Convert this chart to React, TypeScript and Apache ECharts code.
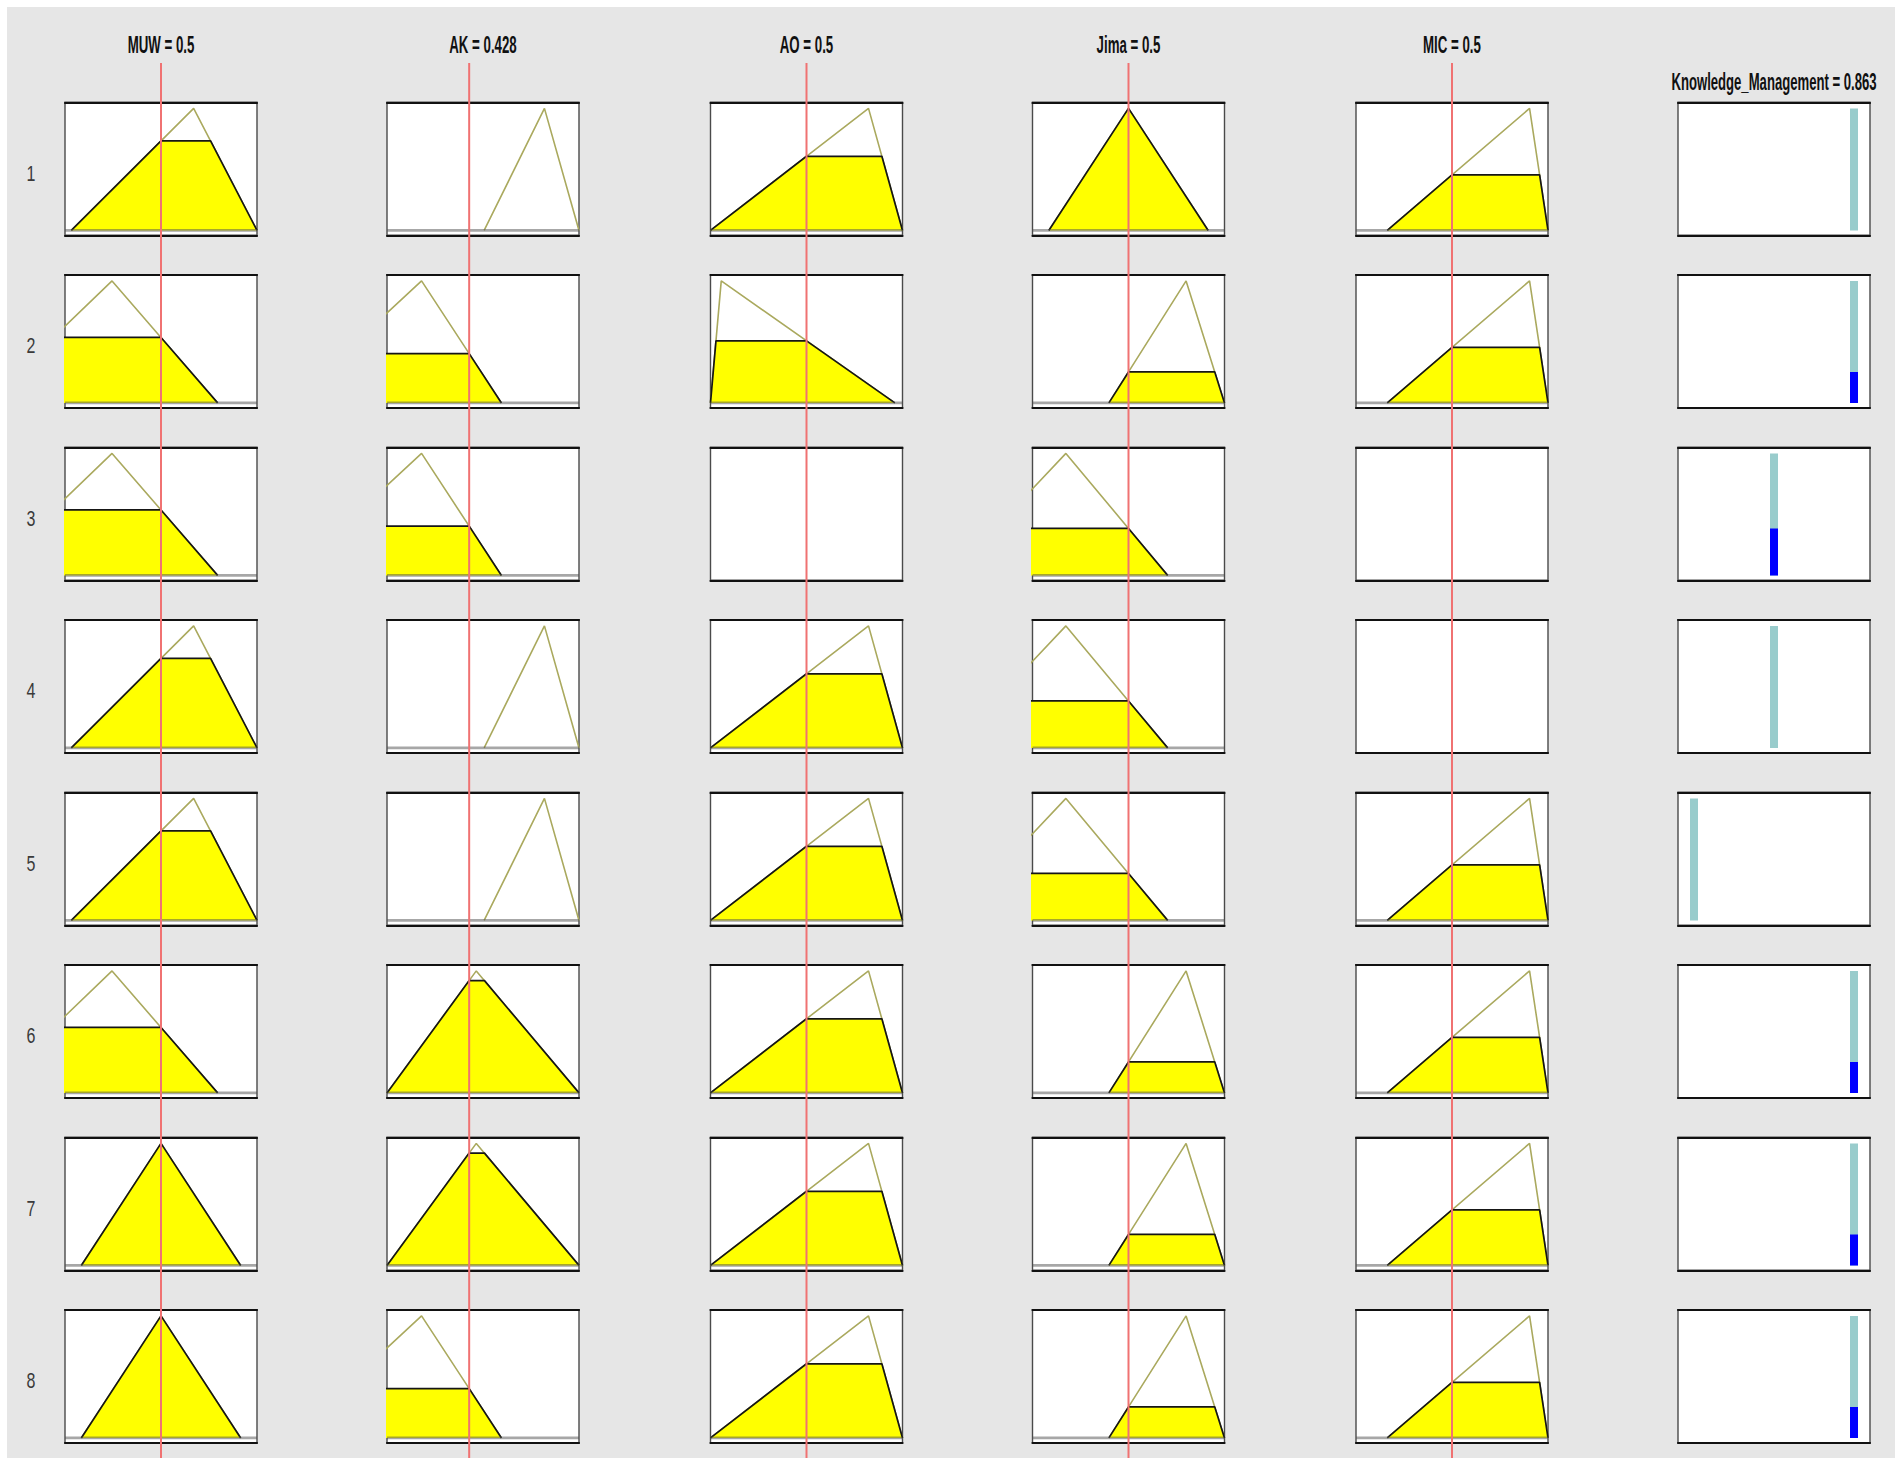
import React, { useEffect, useRef } from 'react';
import * as echarts from 'echarts';

// ---------- data ----------
const inputTitles = ['MUW = 0.5', 'AK = 0.428', 'AO = 0.5', 'Jima = 0.5', 'MIC = 0.5'];
const inputValues = [0.5, 0.428, 0.5, 0.5, 0.5];
const outputTitle = 'Knowledge_Management = 0.863';
const ruleLabels = ['1', '2', '3', '4', '5', '6', '7', '8'];

// triangular membership functions [a, b, c]
const muwMFs: Record<string, number[]> = { low: [-0.417, 0.245, 0.795], mid: [0.085, 0.5, 0.915], high: [0.033, 0.67, 1.0] };
const akMFs: Record<string, number[]> = { low: [-0.505, 0.18, 0.596], mid: [0, 0.465, 1.0], high: [0.506, 0.82, 1.0] };
const aoMFs: Record<string, number[]> = { low: [0, 0.056, 0.96], high: [0, 0.823, 1.0] };
const jimaMFs: Record<string, number[]> = { low: [-0.426, 0.174, 0.704], mid: [0.085, 0.5, 0.915], high: [0.398, 0.8, 1.0] };
const micMFs: Record<string, number[]> = { high: [0.163, 0.904, 1.0] };
const outputMFs: Record<string, number> = { low: 0, medium: 0.5, high: 1 };

// rule antecedents (null = input not used in the rule)
const ruleMUW = ['high', 'low', 'low', 'high', 'high', 'low', 'mid', 'mid'];
const ruleAK = ['high', 'low', 'low', 'high', 'high', 'mid', 'mid', 'low'];
const ruleAO = ['high', 'low', null, 'high', 'high', 'high', 'high', 'high'];
const ruleJima = ['mid', 'high', 'low', 'low', 'low', 'high', 'high', 'high'];
const ruleMIC = ['high', 'high', null, null, 'high', 'high', 'high', 'high'];
const ruleOutput = ['high', 'high', 'medium', 'medium', 'low', 'high', 'high', 'high'];

// ---------- layout ----------
const W = 1902;
const H = 1465;
const colLeft = [65, 387, 710.5, 1032.5, 1356, 1678];
const boxW = 192;
const rowTop0 = 102.3;
const rowStep = 172.5;
const boxH = 133;

const inputMFs = [muwMFs, akMFs, aoMFs, jimaMFs, micMFs];
const inputRules = [ruleMUW, ruleAK, ruleAO, ruleJima, ruleMIC];

function trimf(x: number, p: number[]) {
  const [a, b, c] = p;
  if (x <= a || x >= c) return 0;
  if (x === b) return 1;
  if (x < b) return (x - a) / (b - a);
  return (c - x) / (c - b);
}

function buildOption() {
  const grid: any[] = [];
  const xAxis: any[] = [];
  const yAxis: any[] = [];
  const series: any[] = [];
  const graphic: any[] = [];

  graphic.push({
    type: 'rect',
    z: -10,
    shape: { x: 7, y: 7, width: 1888, height: 1451 },
    style: { fill: '#e6e6e6' },
    silent: true,
  });

  const edgeAxis = (gridIndex: number, position: string, xmin: number, xmax: number) => ({
    gridIndex, type: 'value', min: xmin, max: xmax, position, show: true,
    axisLine: { show: true, onZero: false, lineStyle: { color: '#111111', width: 2.2 } },
    axisTick: { show: false }, axisLabel: { show: false }, splitLine: { show: false },
  });

  // returns [xAxisIndex, yAxisIndex]
  const addGrid = (left: number, top: number, width: number, height: number, xmin: number, xmax: number, ymin: number, ymax: number, show: boolean) => {
    const gi = grid.length;
    grid.push({
      left, top, width, height,
      show,
      backgroundColor: '#ffffff',
      borderColor: '#4a4a4a',
      borderWidth: 1.4,
      containLabel: false,
    });
    const xi = xAxis.length;
    if (show) {
      xAxis.push(edgeAxis(gi, 'bottom', xmin, xmax));
      xAxis.push(edgeAxis(gi, 'top', xmin, xmax));
    } else {
      xAxis.push({ gridIndex: gi, type: 'value', min: xmin, max: xmax, show: false });
    }
    const yi = yAxis.length;
    yAxis.push({ gridIndex: gi, type: 'value', min: ymin, max: ymax, show: false });
    return [xi, yi];
  };

  for (let r = 0; r < ruleLabels.length; r++) {
    const top = rowTop0 + r * rowStep;
    const weights: number[] = [];
    for (let c = 0; c < 5; c++) {
      const [xi, yi] = addGrid(colLeft[c], top, boxW, boxH, 0, 1, -0.04, 1.05, true);
      const name = inputRules[c][r];
      if (!name) continue;
      const mf = inputMFs[c][name];
      const [a, b, cc] = mf;
      const level = trimf(inputValues[c], mf);
      weights.push(level);
      series.push({
        type: 'line', xAxisIndex: xi, yAxisIndex: yi, silent: true, z: 2,
        symbol: 'none', showSymbol: false, clip: true,
        data: [[a, 0], [b, 1], [cc, 0]],
        lineStyle: { color: '#aaa95e', width: 1.6 },
      });
      if (level > 0) {
        series.push({
          type: 'line', xAxisIndex: xi, yAxisIndex: yi, silent: true, z: 3,
          symbol: 'none', showSymbol: false, clip: true,
          data: [[a, 0], [a + level * (b - a), level], [cc - level * (cc - b), level], [cc, 0]],
          lineStyle: { color: '#161616', width: 1.7 },
          areaStyle: { color: '#ffff00', opacity: 1 },
        });
      }
      series.push({
        type: 'line', xAxisIndex: xi, yAxisIndex: yi, silent: true, z: 4,
        symbol: 'none', showSymbol: false, clip: true,
        data: [[0, 0], [1, 0]],
        lineStyle: { color: 'rgba(80,80,80,0.5)', width: 2.6 },
      });
    }
    // output column
    const [oxi, oyi] = addGrid(colLeft[5], top, boxW, boxH, -0.1, 1.1, -0.04, 1.05, true);
    const pos = outputMFs[ruleOutput[r]];
    const weight = Math.min(...weights);
    series.push({
      type: 'line', xAxisIndex: oxi, yAxisIndex: oyi, silent: true, z: 3,
      symbol: 'none', showSymbol: false,
      data: [[pos, 0], [pos, 1]],
      lineStyle: { color: '#99cccc', width: 8, cap: 'butt' },
    });
    if (weight > 0) {
      series.push({
        type: 'line', xAxisIndex: oxi, yAxisIndex: oyi, silent: true, z: 4,
        symbol: 'none', showSymbol: false,
        data: [[pos, 0], [pos, weight]],
        lineStyle: { color: '#0000ff', width: 8, cap: 'butt' },
      });
    }
    graphic.push({
      type: 'text', z: 100, silent: true,
      x: 31, y: top + 71, scaleY: 1.35,
      style: {
        text: ruleLabels[r], font: '16px "Liberation Sans", Arial, sans-serif',
        fill: '#3a3a3a', textAlign: 'center', textVerticalAlign: 'middle',
      },
    });
  }

  // red input value lines spanning all rows
  for (let c = 0; c < 5; c++) {
    const [xi, yi] = addGrid(colLeft[c], 63, boxW, 1395, 0, 1, 0, 1, false);
    series.push({
      type: 'line', xAxisIndex: xi, yAxisIndex: yi, silent: true, z: 20,
      symbol: 'none', showSymbol: false,
      data: [[inputValues[c], 0], [inputValues[c], 1]],
      lineStyle: { color: '#f07272', width: 2 },
    });
    graphic.push({
      type: 'text', z: 100, silent: true,
      x: colLeft[c] + boxW / 2, y: 44, scaleX: 0.83, scaleY: 1.5,
      style: {
        text: inputTitles[c], font: 'bold 16px "Liberation Sans", Arial, sans-serif',
        fill: '#111111', textAlign: 'center', textVerticalAlign: 'middle',
      },
    });
  }
  graphic.push({
    type: 'text', z: 100, silent: true,
    x: colLeft[5] + boxW / 2, y: 81, scaleX: 0.82, scaleY: 1.5,
    style: {
      text: outputTitle, font: 'bold 16px "Liberation Sans", Arial, sans-serif',
      fill: '#111111', textAlign: 'center', textVerticalAlign: 'middle',
    },
  });

  return {
    animation: false,
    backgroundColor: '#ffffff',
    grid, xAxis, yAxis, series, graphic,
  };
}

export default function App() {
  const ref = useRef<HTMLDivElement>(null);
  useEffect(() => {
    if (!ref.current) return;
    const chart = echarts.init(ref.current, undefined, { renderer: 'svg' });
    chart.setOption(buildOption() as any);
    return () => chart.dispose();
  }, []);
  return (
    <div
      ref={ref}
      style={{ position: 'absolute', left: 0, top: 0, width: W, height: H }}
    />
  );
}
